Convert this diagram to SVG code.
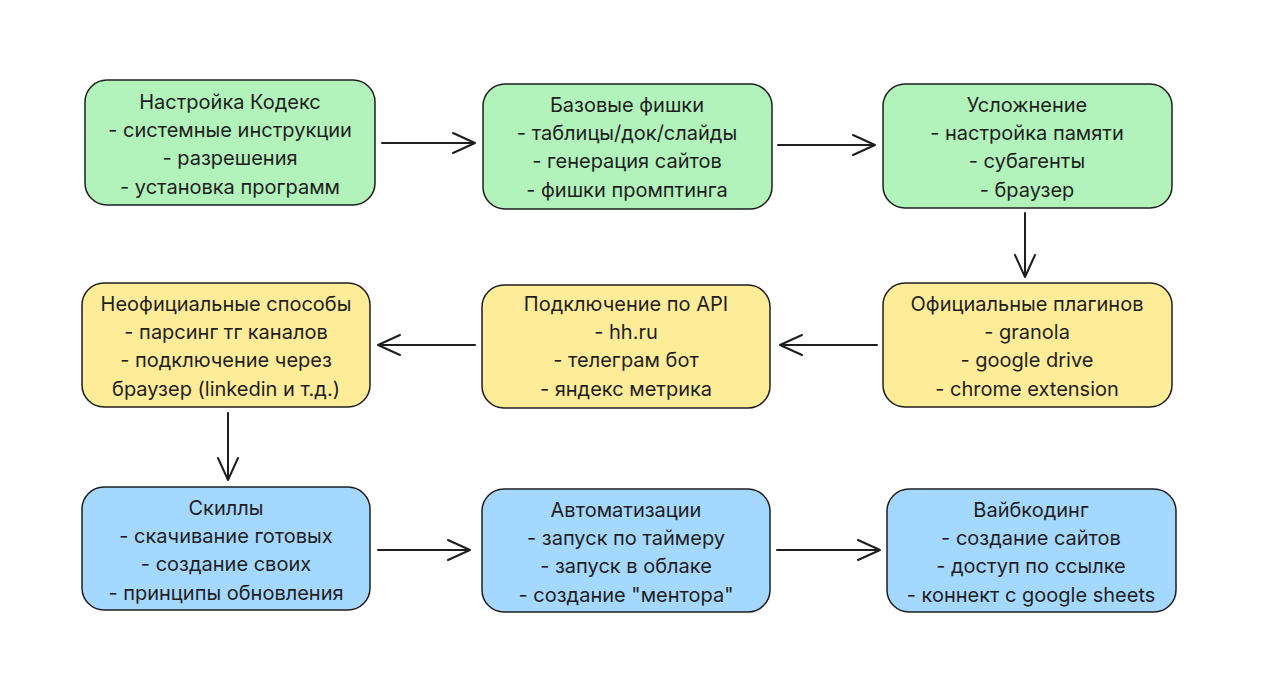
<svg xmlns="http://www.w3.org/2000/svg" width="1280" height="697" viewBox="0 0 1280 697">
<style>
.b{stroke:#1e1e1e;stroke-width:1.5}
.g{fill:#b2f2bb}.y{fill:#ffec99}.bl{fill:#a5d8ff}
text{font-family:Inter,"Open Sans",sans-serif;font-size:20px;fill:#1e1e1e;text-anchor:middle}
.c path{fill:none;stroke:#1e1e1e;stroke-width:2;stroke-linecap:round;stroke-linejoin:round}
</style>
<rect width="1280" height="697" fill="#fff"/>
<g id="n1"><rect class="b g" x="85" y="80" width="290" height="125" rx="22"/>
<text x="230" y="109">Настройка Кодекс</text><text x="230" y="137">- системные инструкции</text><text x="230" y="165">- разрешения</text><text x="230" y="194">- установка программ</text></g>
<g id="n2"><rect class="b g" x="483" y="84" width="289" height="125" rx="22"/>
<text x="627" y="112">Базовые фишки</text><text x="627" y="140">- таблицы/док/слайды</text><text x="627" y="168">- генерация сайтов</text><text x="627" y="197">- фишки промптинга</text></g>
<g id="n3"><rect class="b g" x="883" y="84" width="289" height="124" rx="22"/>
<text x="1027" y="112">Усложнение</text><text x="1027" y="140">- настройка памяти</text><text x="1027" y="168">- субагенты</text><text x="1027" y="197">- браузер</text></g>
<g id="n4"><rect class="b y" x="82" y="283" width="288" height="124" rx="22"/>
<text x="226" y="311">Неофициальные способы</text><text x="226" y="339">- парсинг тг каналов</text><text x="226" y="367">- подключение через</text><text x="226" y="396">браузер (linkedin и т.д.)</text></g>
<g id="n5"><rect class="b y" x="482" y="285" width="288" height="123" rx="22"/>
<text x="626" y="311">Подключение по API</text><text x="626" y="339">- hh.ru</text><text x="626" y="367">- телеграм бот</text><text x="626" y="396">- яндекс метрика</text></g>
<g id="n6"><rect class="b y" x="883" y="283" width="289" height="124" rx="22"/>
<text x="1027" y="311">Официальные плагинов</text><text x="1027" y="339">- granola</text><text x="1027" y="367">- google drive</text><text x="1027" y="396">- chrome extension</text></g>
<g id="n7"><rect class="b bl" x="82" y="487" width="288" height="123" rx="22"/>
<text x="226" y="515">Скиллы</text><text x="226" y="543">- скачивание готовых</text><text x="226" y="571">- создание своих</text><text x="226" y="600">- принципы обновления</text></g>
<g id="n8"><rect class="b bl" x="482" y="489" width="288" height="123" rx="22"/>
<text x="626" y="517">Автоматизации</text><text x="626" y="545">- запуск по таймеру</text><text x="626" y="573">- запуск в облаке</text><text x="626" y="602">- создание "ментора"</text></g>
<g id="n9"><rect class="b bl" x="887" y="489" width="289" height="123" rx="22"/>
<text x="1031" y="517">Вайбкодинг</text><text x="1031" y="545">- создание сайтов</text><text x="1031" y="573">- доступ по ссылке</text><text x="1031" y="602">- коннект с google sheets</text></g>
<g class="c" id="connectors">
<path d="M382 143H475M453 133L475 143L453 153"/>
<path d="M778 145H875M853 135L875 145L853 155"/>
<path d="M1025 213V277M1015 255L1025 277L1035 255"/>
<path d="M877 345H780M802 335L780 345L802 355"/>
<path d="M475 345H378M400 335L378 345L400 355"/>
<path d="M228 413V480M218 458L228 480L238 458"/>
<path d="M378 550H470M448 540L470 550L448 560"/>
<path d="M777 550H880M858 540L880 550L858 560"/>
</g>
</svg>
